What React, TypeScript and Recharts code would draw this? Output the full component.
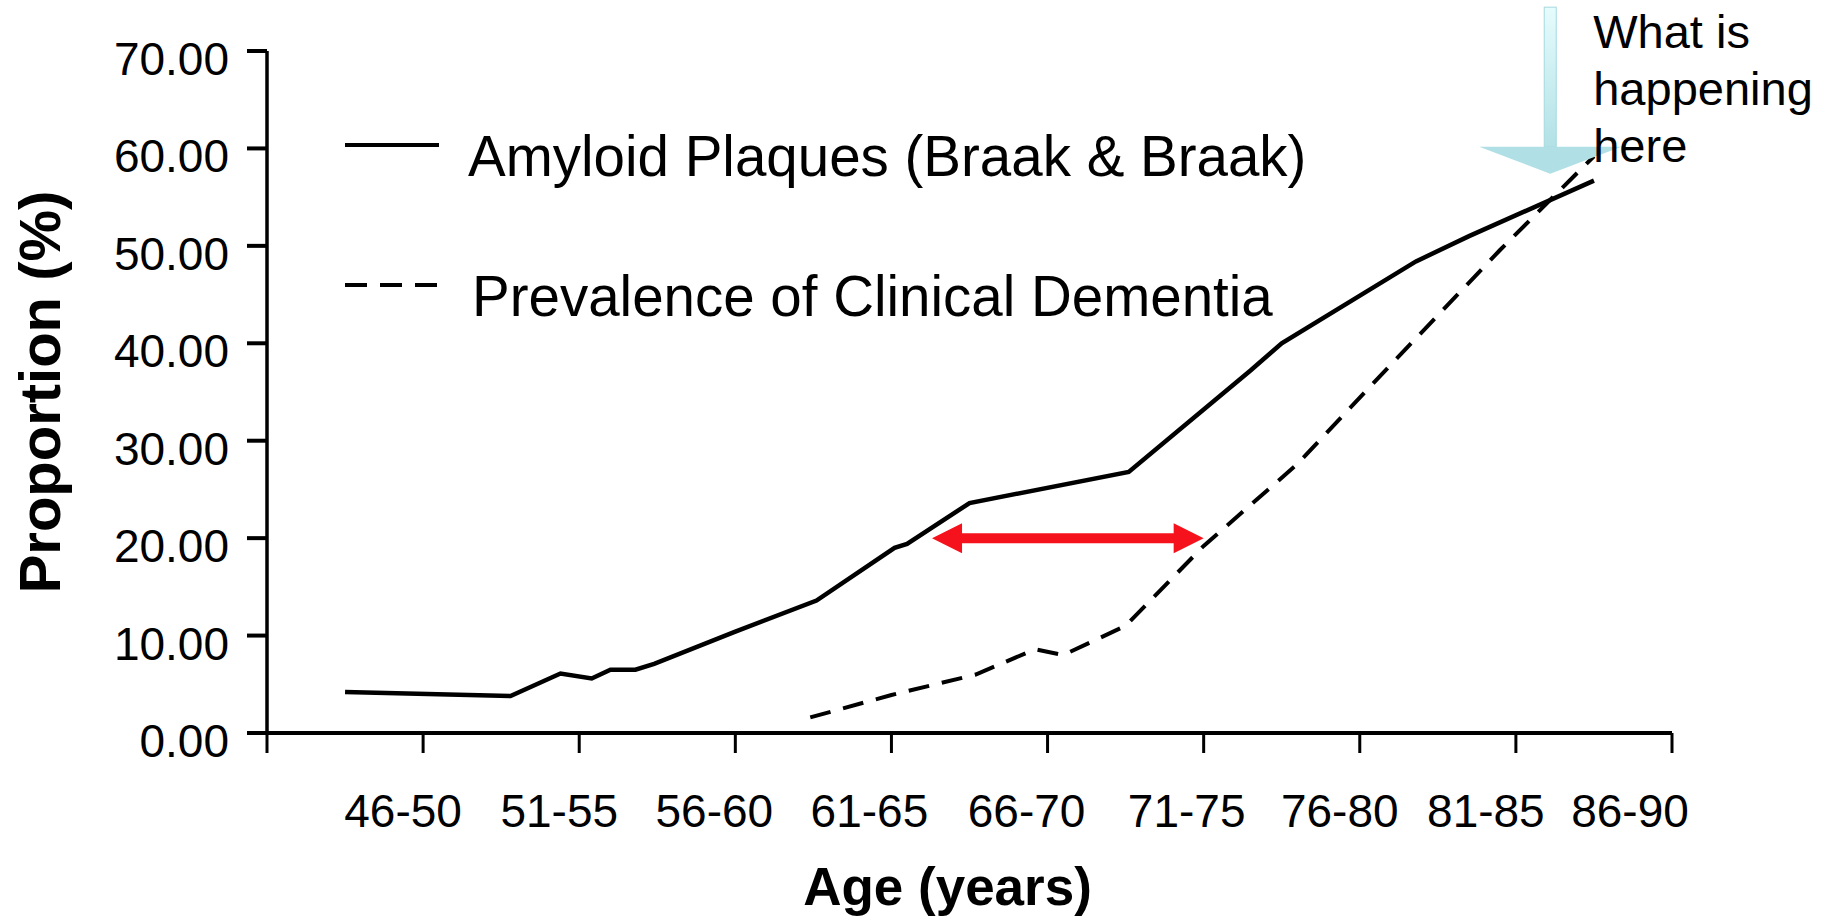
import { LineChart, Line, XAxis, YAxis, ReferenceLine, Legend } from "recharts";

// Amyloid plaques (Braak & Braak)
const plaqueAges = [47.5, 52.8, 54.4, 55.4, 56.0, 56.8, 57.4, 60.0, 62.6, 65.1, 65.5, 67.5, 72.6, 76.5, 77.5, 81.8, 83.5, 87.5];
const plaqueValues = [4.2, 3.8, 6.1, 5.6, 6.5, 6.5, 7.1, 10.4, 13.6, 19.0, 19.4, 23.6, 26.8, 37.2, 40.0, 48.4, 51.0, 56.7];

// Prevalence of clinical dementia
const dementiaAges = [62.4, 65.0, 67.7, 69.6, 70.5, 72.5, 75.0, 78.0, 80.4, 84.5, 87.5];
const dementiaValues = [1.6, 3.9, 6.0, 8.6, 8.0, 11.0, 19.2, 27.6, 35.8, 49.6, 59.2];

const xTicks = [45, 50, 55, 60, 65, 70, 75, 80, 85, 90];
const ageGroups = ["46-50", "51-55", "56-60", "61-65", "66-70", "71-75", "76-80", "81-85", "86-90"];
const yTicks = [0, 10, 20, 30, 40, 50, 60, 70];

// red gap arrow and the "what is happening" pointer
const gapArrow = { from: 66.3, to: 75.0, level: 20 };
const pointer = { age: 86.1, top: 74.5, tip: 57.4 };

// the original labels sit a bit left of their ticks, more so at the right end
const labelShift = [0, -20, -20, -21, -22, -21, -17, -20, -30, -42];

const plaqueData = plaqueAges.map((age, i) => ({ age, value: plaqueValues[i] }));
const dementiaData = dementiaAges.map((age, i) => ({ age, value: dementiaValues[i] }));

const SANS = "'Liberation Sans', Arial, Helvetica, sans-serif";

function YTick({ x, y, payload }: any) {
  return (
    <text x={x} y={y + 8} textAnchor="end" dominantBaseline="central" fontFamily={SANS} fontSize={46} fill="#000">
      {Number(payload.value).toFixed(2)}
    </text>
  );
}

function XTick({ x, y, payload }: any) {
  const idx = xTicks.indexOf(payload.value);
  const label = idx > 0 ? ageGroups[idx - 1] : "";
  return (
    <text x={x + labelShift[idx]} y={y + 72} textAnchor="middle" fontFamily={SANS} fontSize={46} fill="#000">
      {label}
    </text>
  );
}

function YTitle({ viewBox }: any) {
  const cy = viewBox.y + viewBox.height / 2;
  return (
    <text transform={`translate(60, ${cy}) rotate(-90)`} textAnchor="middle" fontFamily={SANS} fontWeight="bold" fontSize={58} fill="#000">
      Proportion (%)
    </text>
  );
}

function XTitle({ viewBox }: any) {
  return (
    <text x={viewBox.x + viewBox.width / 2 - 22} y={viewBox.y + 172} textAnchor="middle" fontFamily={SANS} fontWeight="bold" fontSize={53} fill="#000">
      Age (years)
    </text>
  );
}

function LegendBox() {
  return (
    <svg width={1050} height={240} style={{ display: "block" }}>
      <line x1={2} y1={45} x2={96} y2={45} stroke="#000" strokeWidth={4} />
      <text x={125} y={76} fontFamily={SANS} fontSize={56.5} fill="#000">
        Amyloid Plaques (Braak &amp; Braak)
      </text>
      <line x1={2} y1={185} x2={96} y2={185} stroke="#000" strokeWidth={4} strokeDasharray="22 13" />
      <text x={129} y={216} fontFamily={SANS} fontSize={56.5} fill="#000">
        Prevalence of Clinical Dementia
      </text>
    </svg>
  );
}

function RedArrow({ x1, y1, x2 }: any) {
  const h = 5;
  const head = 30;
  const hw = 15;
  const pts = [
    [x1, y1],
    [x1 + head, y1 - hw],
    [x1 + head, y1 - h],
    [x2 - head, y1 - h],
    [x2 - head, y1 - hw],
    [x2, y1],
    [x2 - head, y1 + hw],
    [x2 - head, y1 + h],
    [x1 + head, y1 + h],
    [x1 + head, y1 + hw],
  ]
    .map((p) => p.join(","))
    .join(" ");
  return <polygon points={pts} fill="#F5121C" />;
}

function CyanArrow({ x1, y1, y2 }: any) {
  const shaftHalf = 6;
  const headHalf = 71;
  const headLen = 27;
  const baseY = y2 - headLen;
  return (
    <g>
      <defs>
        <linearGradient id="cyanShaft" x1="0" y1="0" x2="0" y2="1">
          <stop offset="0%" stopColor="#e6fcfd" />
          <stop offset="100%" stopColor="#b2e1e6" />
        </linearGradient>
      </defs>
      <rect x={x1 - shaftHalf} y={y1} width={shaftHalf * 2} height={baseY - y1} fill="url(#cyanShaft)" stroke="#a6d9df" strokeWidth={1} />
      <polygon points={`${x1 - headHalf},${baseY} ${x1 + headHalf},${baseY} ${x1},${y2}`} fill="#b0dfe5" />
      <text fontFamily={SANS} fontSize={47} fill="#000">
        <tspan x={x1 + 43} y={48}>What is</tspan>
        <tspan x={x1 + 43} y={105}>happening</tspan>
        <tspan x={x1 + 43} y={162}>here</tspan>
      </text>
    </g>
  );
}

export default function App() {
  return (
    <div style={{ position: "absolute", left: 0, top: 0, width: 1836, height: 923, background: "#fff" }}>
      <LineChart width={1836} height={923} margin={{ top: 51, right: 164, bottom: 0, left: 0 }}>
        <XAxis
          dataKey="age"
          type="number"
          domain={[45, 90]}
          ticks={xTicks}
          height={190}
          tick={<XTick />}
          tickSize={20}
          axisLine={{ stroke: "#000", strokeWidth: 4 }}
          tickLine={{ stroke: "#000", strokeWidth: 3 }}
          label={<XTitle />}
          allowDataOverflow
        />
        <YAxis
          type="number"
          domain={[0, 70]}
          ticks={yTicks}
          width={267}
          tick={<YTick />}
          tickSize={20}
          tickMargin={18}
          axisLine={{ stroke: "#000", strokeWidth: 3.5 }}
          tickLine={{ stroke: "#000", strokeWidth: 4 }}
          label={<YTitle />}
        />
        <Legend
          layout="horizontal"
          verticalAlign="middle"
          align="center"
          content={<LegendBox />}
          wrapperStyle={{ left: 343, top: 100, width: 1050, height: 240 }}
        />
        <Line
          data={plaqueData}
          dataKey="value"
          type="linear"
          stroke="#000"
          strokeWidth={4.5}
          dot={false}
          activeDot={false}
          isAnimationActive={false}
        />
        <Line
          data={dementiaData}
          dataKey="value"
          type="linear"
          stroke="#000"
          strokeWidth={4}
          strokeDasharray="21 13"
          dot={false}
          activeDot={false}
          isAnimationActive={false}
        />
        <ReferenceLine
          segment={[
            { x: gapArrow.from, y: gapArrow.level },
            { x: gapArrow.to, y: gapArrow.level },
          ]}
          ifOverflow="visible"
          shape={<RedArrow />}
        />
        <ReferenceLine
          segment={[
            { x: pointer.age, y: pointer.top },
            { x: pointer.age, y: pointer.tip },
          ]}
          ifOverflow="visible"
          shape={<CyanArrow />}
        />
      </LineChart>
    </div>
  );
}
